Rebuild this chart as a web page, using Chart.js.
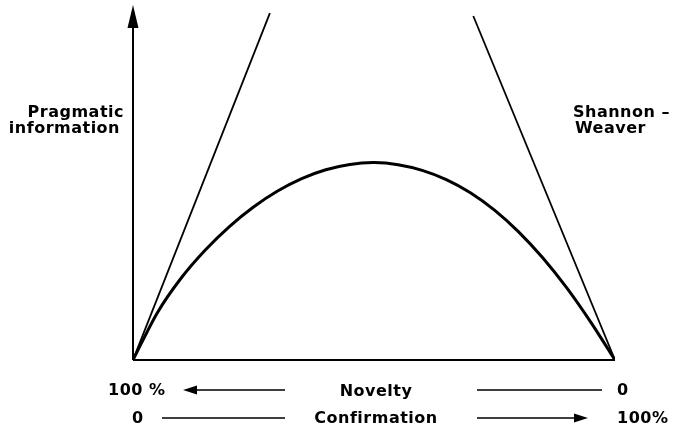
<!DOCTYPE html>
<html>
<head>
<meta charset="utf-8">
<script src="https://cdn.jsdelivr.net/npm/chart.js@4"></script>
<style>
  html, body { margin: 0; padding: 0; background: #fff; }
  #wrap { width: 678px; height: 431px; position: relative; }
</style>
</head>
<body>
<div id="wrap"><canvas id="chart"></canvas></div>
<script>
// Données (x : 0..100, y : 0..100)
const curveX = [0, 5, 10, 15, 20, 25, 30, 35, 40, 45, 50, 55, 60, 65, 70, 75, 80, 85, 90, 95, 100];
const curveY = [0, 13.2, 23.1, 31.0, 37.6, 43.1, 47.6, 51.1, 53.6, 55.1, 55.6, 55.0, 53.4, 50.8, 47.1, 42.2, 36.1, 28.8, 20.3, 10.6, 0];
const leftLineX = [0, 28.4];
const leftLineY = [0, 97.7];
const rightLineX = [70.6, 100];
const rightLineY = [96.9, 0];

// Textes
const yLabel = ["Pragmatic", "information"];
const lineLabel = ["Shannon \u2013", "Weaver"];
const noveltyLabels = ["100 %", "Novelty", "0"];
const confirmLabels = ["0", "Confirmation", "100%"];

function pts(xs, ys) {
    return xs.map((x, i) => ({ x: x, y: ys[i] }));
}

// Plugin pour les axes, flèches et textes
const annotations = {
    id: "annotations",
    afterDraw(chart) {
        const ctx = chart.ctx;
        const xs = chart.scales.x;
        const ys = chart.scales.y;
        const x0 = xs.getPixelForValue(0);
        const x1 = xs.getPixelForValue(100);
        const y0 = ys.getPixelForValue(0);

        ctx.save();
        ctx.strokeStyle = "#000";
        ctx.fillStyle = "#000";
        ctx.lineWidth = 2;

        // axe x
        ctx.beginPath();
        ctx.moveTo(x0, y0);
        ctx.lineTo(x1, y0);
        ctx.stroke();

        // axe y avec flèche
        ctx.beginPath();
        ctx.moveTo(x0, y0);
        ctx.lineTo(x0, 20);
        ctx.stroke();
        ctx.beginPath();
        ctx.moveTo(x0, 5);
        ctx.lineTo(x0 - 5.5, 28);
        ctx.lineTo(x0 + 5.5, 28);
        ctx.closePath();
        ctx.fill();

        // lignes de la légende du bas
        ctx.lineWidth = 1.5;
        ctx.beginPath();
        ctx.moveTo(190, 390); ctx.lineTo(285, 390);
        ctx.moveTo(477, 390); ctx.lineTo(602, 390);
        ctx.moveTo(162, 418); ctx.lineTo(285, 418);
        ctx.moveTo(477, 418); ctx.lineTo(578, 418);
        ctx.stroke();

        // pointes de flèches
        ctx.beginPath();
        ctx.moveTo(183, 390); ctx.lineTo(197, 385.5); ctx.lineTo(197, 394.5);
        ctx.closePath();
        ctx.fill();
        ctx.beginPath();
        ctx.moveTo(588, 418); ctx.lineTo(574, 413.5); ctx.lineTo(574, 422.5);
        ctx.closePath();
        ctx.fill();

        // textes
        ctx.font = "bold 16px 'DejaVu Sans'";
        ctx.letterSpacing = "0.5px";
        ctx.textBaseline = "alphabetic";
        ctx.textAlign = "right";
        ctx.fillText(yLabel[0], 124, 117);
        ctx.fillText(yLabel[1], 120, 133);
        ctx.textAlign = "left";
        ctx.fillText(lineLabel[0], 573, 117);
        ctx.fillText(lineLabel[1], 575, 133);

        ctx.textBaseline = "middle";
        ctx.textAlign = "left";
        ctx.fillText(noveltyLabels[0], 108, 391);
        ctx.fillText(noveltyLabels[2], 617, 391);
        ctx.fillText(confirmLabels[0], 132, 419);
        ctx.fillText(confirmLabels[2], 617, 419);
        ctx.textAlign = "center";
        ctx.fillText(noveltyLabels[1], 376, 392);
        ctx.fillText(confirmLabels[1], 376, 419);
        ctx.restore();
    }
};

window.addEventListener("DOMContentLoaded", () => {
    const el = document.getElementById("chart");
    new Chart(el, {
        type: "scatter",
        data: {
            datasets: [
                {
                    data: pts(curveX, curveY),
                    showLine: true,
                    borderColor: "#000",
                    borderWidth: 3,
                    pointRadius: 0,
                    tension: 0.3
                },
                {
                    data: pts(leftLineX, leftLineY),
                    showLine: true,
                    borderColor: "#000",
                    borderWidth: 1.8,
                    pointRadius: 0
                },
                {
                    data: pts(rightLineX, rightLineY),
                    showLine: true,
                    borderColor: "#000",
                    borderWidth: 1.8,
                    pointRadius: 0
                }
            ]
        },
        options: {
            responsive: true,
            maintainAspectRatio: false,
            animation: false,
            layout: { padding: { left: 133, right: 63, top: 5, bottom: 71 } },
            plugins: { legend: { display: false }, tooltip: { enabled: false } },
            scales: {
                x: { type: "linear", min: 0, max: 100, display: false },
                y: { type: "linear", min: 0, max: 100, display: false }
            }
        },
        plugins: [annotations]
    });
});
</script>
</body>
</html>
